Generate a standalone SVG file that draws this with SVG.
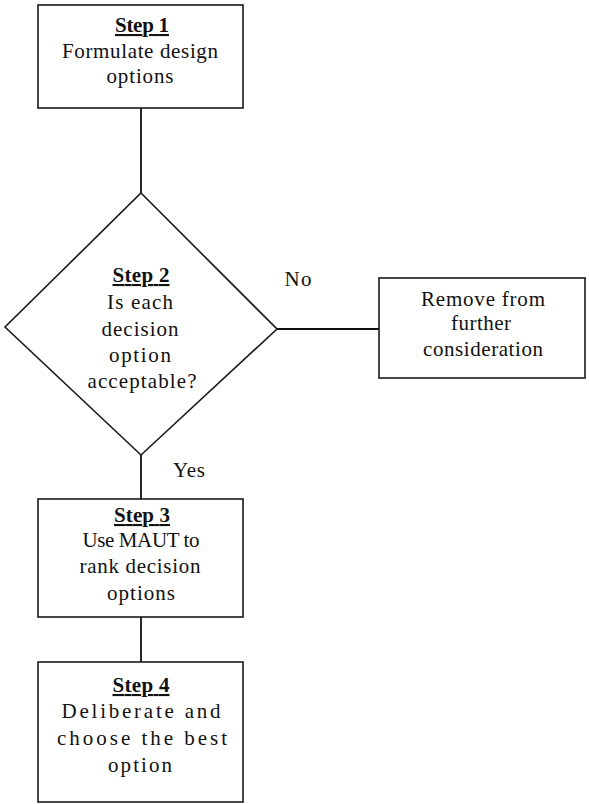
<svg xmlns="http://www.w3.org/2000/svg" width="589" height="804" viewBox="0 0 589 804">
  <style>
    .box { fill: #ffffff; stroke: #1a1a1a; stroke-width: 1.6; }
    .wire { fill: none; stroke: #111111; stroke-width: 1.8; }
    text { font-family: "Liberation Serif", "Times New Roman", serif; font-size: 21px; fill: #111111; text-anchor: middle; }
    .head { font-weight: bold; text-decoration: underline; }
  </style>
  <rect width="589" height="804" fill="#ffffff"/>

  <!-- connectors -->
  <g id="connectors">
    <line class="wire" x1="141" y1="108" x2="141" y2="193"/>
    <line class="wire" x1="277" y1="329" x2="379" y2="329"/>
    <line class="wire" x1="141" y1="455" x2="141" y2="499"/>
    <line class="wire" x1="141" y1="617" x2="141" y2="662"/>
    <text x="298" y="286" textLength="27" lengthAdjust="spacing">No</text>
    <text x="189" y="477" textLength="32" lengthAdjust="spacing">Yes</text>
  </g>

  <g id="step1">
    <rect class="box" x="38" y="5" width="205" height="103"/>
    <text class="head" x="142" y="32" textLength="54" lengthAdjust="spacing">Step 1</text>
    <text x="140" y="58" textLength="156" lengthAdjust="spacing">Formulate design</text>
    <text x="140" y="83" textLength="67" lengthAdjust="spacing">options</text>
  </g>

  <g id="step2">
    <polygon class="box" points="141,193 277,329 141,455 5,327"/>
    <text class="head" x="141" y="282" textLength="57" lengthAdjust="spacing">Step 2</text>
    <text x="140" y="309" textLength="66" lengthAdjust="spacing">Is each</text>
    <text x="140" y="336" textLength="77" lengthAdjust="spacing">decision</text>
    <text x="140" y="362" textLength="62" lengthAdjust="spacing">option</text>
    <text x="142" y="388" textLength="109" lengthAdjust="spacing">acceptable?</text>
  </g>

  <g id="remove">
    <rect class="box" x="379" y="278" width="206" height="100"/>
    <text x="483" y="306" textLength="124" lengthAdjust="spacing">Remove from</text>
    <text x="481" y="330" textLength="60" lengthAdjust="spacing">further</text>
    <text x="483" y="356" textLength="120" lengthAdjust="spacing">consideration</text>
  </g>

  <g id="step3">
    <rect class="box" x="38" y="499" width="205" height="118"/>
    <text class="head" x="142" y="522" textLength="56" lengthAdjust="spacing">Step 3</text>
    <text x="141" y="547" textLength="117" lengthAdjust="spacing">Use MAUT to</text>
    <text x="140" y="573" textLength="121" lengthAdjust="spacing">rank decision</text>
    <text x="141" y="600" textLength="68" lengthAdjust="spacing">options</text>
  </g>

  <g id="step4">
    <rect class="box" x="38" y="662" width="205" height="140"/>
    <text class="head" x="141" y="692" textLength="57" lengthAdjust="spacing">Step 4</text>
    <text x="141" y="718" textLength="159" lengthAdjust="spacing">Deliberate and</text>
    <text x="142" y="745" textLength="170" lengthAdjust="spacing">choose the best</text>
    <text x="140" y="772" textLength="64" lengthAdjust="spacing">option</text>
  </g>
</svg>
